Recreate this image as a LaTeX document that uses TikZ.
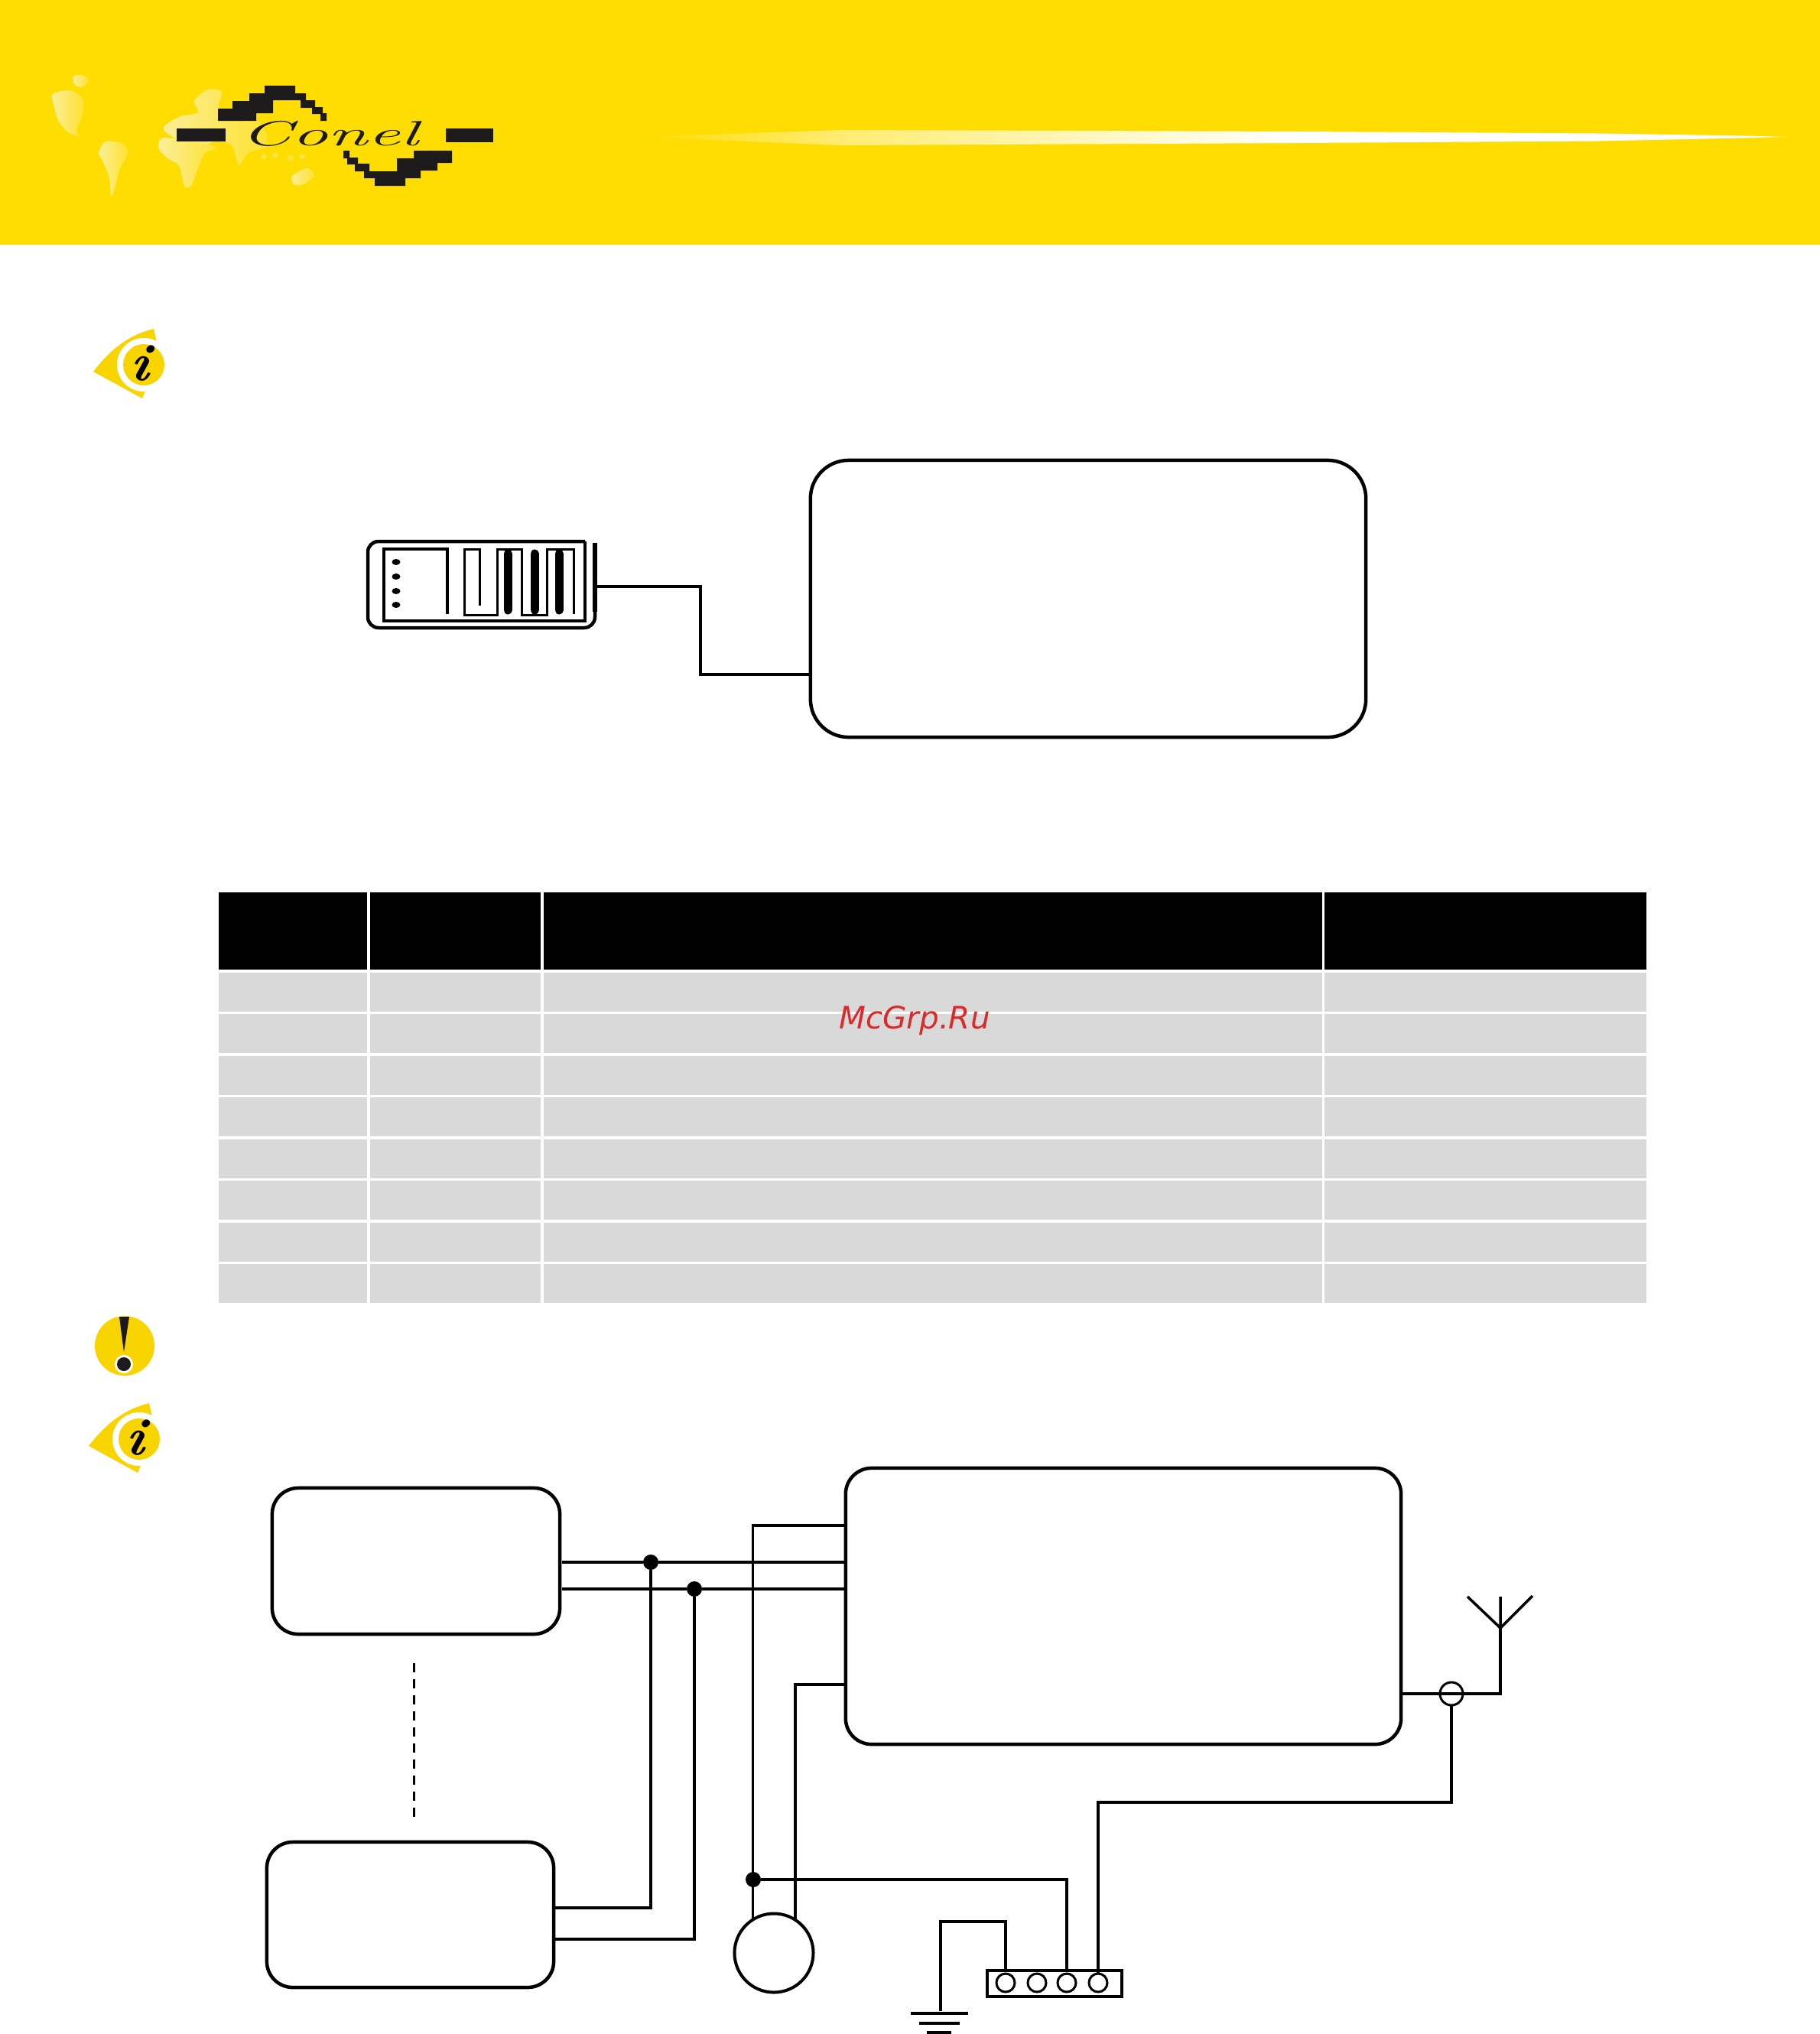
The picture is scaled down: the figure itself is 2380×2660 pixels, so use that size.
\documentclass[tikz,border=0pt]{standalone}
\usepackage{fontspec}
\newfontfamily\markfont{DejaVu Sans}
\definecolor{banneryellow}{HTML}{FFDD00}
\definecolor{iconyellow}{HTML}{F8D500}
\definecolor{landpale}{HTML}{FCEE9A}
\definecolor{tablegrey}{HTML}{D9D9D9}
\definecolor{logoblack}{HTML}{1C1A1A}
\definecolor{markred}{HTML}{D92B2B}
\tikzset{infoeye/.pic={
    \fill[iconyellow] (-66,9) .. controls (-40,-25) and (-15,-40) .. (13,-47)
    -- (17,-29) -- (5,27) -- (-2,44) -- cycle;
    \fill[white] (0,0) circle (0.35cm);
    \fill[iconyellow] (0,0) circle (0.27cm);
    \node[rotate=-8,text=black,font=\fontsize{20}{20}\rmfamily\bfseries\itshape] (-glyph) at (-4,-3) {i};
}}
\newcommand{\stairpath}{(285,158) -- (285,142) -- (304,142) -- (304,132) -- (326,132) -- (326,122) -- (346,122) -- (346,112) -- (386,112) -- (386,122) -- (400,122) -- (400,131) -- (412,131) -- (412,140) -- (422,140) -- (422,148) -- (427,148) -- (427,158) -- (419,158) -- (419,149) -- (408,149) -- (408,141) -- (393,141) -- (393,131) -- (357,131) -- (357,148) -- (335,148) -- (335,158) -- cycle}
\begin{document}
\begin{tikzpicture}[x=0.01cm,y=-0.01cm,>=latex]
    \tikzstyle{every node}=[inner sep=0pt,outer sep=0pt]
    \tikzstyle{land}=[left color=landpale,right color=banneryellow!70!landpale]
    \tikzstyle{wire}=[line width=0.035cm]
    \tikzstyle{outline}=[draw,line width=0.045cm,rounded corners=0.34cm]
    \tikzstyle{junction}=[circle,fill=black,minimum size=0.2cm]
    \tikzstyle{pin}=[circle,draw,line width=0.03cm,minimum size=0.24cm]

    \useasboundingbox (0,0) rectangle (2380,2660);

    % page head
    \fill[banneryellow] (0,0) rectangle (2380,320);
    \shade[land] plot[smooth cycle] coordinates {(69,123) (89,118) (107,127) (109,147) (100,170) (105,178) (89,173) (76,157) (69,133)};
    \shade[land] plot[smooth cycle] coordinates {(96,100) (108,98) (116,106) (106,114) (97,110)};
    \shade[land] plot[smooth cycle] coordinates {(129,200) (138,185) (161,188) (167,200) (156,223) (150,247) (145,257) (143,233) (134,210)};
    \shade[land] plot[smooth cycle] coordinates {(214,170) (234,153) (259,147) (254,132) (272,117) (290,120) (286,140) (300,150) (340,160) (350,190) (325,200) (312,215) (303,190) (280,185) (258,195)};
    \shade[land] plot[smooth cycle] coordinates {(207,193) (214,180) (254,186) (285,193) (268,200) (259,220) (250,243) (241,243) (234,217) (219,207)};
    \shade[land] plot[smooth cycle] coordinates {(382,230) (402,220) (411,230) (397,241) (384,241)};
    \foreach \ix/\iy in {345/205,360/203,380/207,395/205}
        \fill[banneryellow!60!landpale] (\ix,\iy) circle (0.04cm);
    \shade[left color=banneryellow,right color=banneryellow!55!white] (831,179) -- (1100,170) -- (1100,190) -- cycle;
    \shade[left color=banneryellow!55!white,right color=white] (1100,170) -- (1700,172) -- (1700,187) -- (1100,190) -- cycle;
    \fill[white] (1700,172) -- (2090,174.5) -- (2280,177.5) -- (2335,179) -- (2280,180.5) -- (2090,184.5) -- (1700,187) -- cycle;

    \fill[logoblack] (231,168) rectangle (295,185);
    \fill[logoblack] (583,168) rectangle (645,186);
    \fill[logoblack] \stairpath;
    \begin{scope}[rotate around={180:(438,177.5)}]
        \fill[logoblack] \stairpath;
    \end{scope}
    \node[xscale=2.08,text=logoblack,font=\fontsize{13}{13}\rmfamily\itshape] (conel) at (431,175) {Conel};

    % notes
    \pic (eyetop) at (188,477) {infoeye};
    \pic (eyelow) at (182,1882) {infoeye};
    \fill[iconyellow] (163,1760) circle (0.39cm);
    \fill[logoblack] (156,1722) -- (169,1722) -- (162,1768) -- cycle;
    \fill[white] (162,1784) circle (0.12cm);
    \fill[logoblack] (162,1784) circle (0.09cm);

    % first wiring
    \node[outline,rounded corners=0.5cm,minimum width=7.26cm,minimum height=3.62cm] (topbox) at (1423,783) {};
    \node[minimum width=3cm,minimum height=1.15cm] (router) at (630,767) {};
    \begin{scope}[line width=0.03cm]
        \draw[line width=0.045cm,rounded corners=0.14cm] (765,708) -- (481,708) -- (481,821) -- (778,821) -- (778,800);
        \draw[line width=0.055cm] (778,800) -- (778,710);
        \draw[line width=0.04cm] (765,708) -- (765,812) -- (502,812) -- (502,718) -- (585,718) -- (585,803);
        \draw (627,792) -- (627,718) -- (607,718) -- (607,804) -- (650,804) -- (650,718) -- (682,718)
        -- (682,804) -- (715,804) -- (715,718) -- (750,718) -- (750,803);
        \foreach \barx in {664,699,731}
            \draw[line width=0.11cm,line cap=round] (\barx,724) -- (\barx,798);
        \foreach \doty in {735,754,773,791}
            \fill (518,\doty) ellipse (0.055cm and 0.04cm);
    \end{scope}
    \coordinate (topbend) at (916,882);
    \draw[wire] (router.east) -| (topbend) -- (topbox.west |- topbend);

    % table
    \foreach \cola/\colb in {286/480,484/707,711/1729,1732/2153} {
        \fill[black] (\cola,1167) rectangle (\colb,1268);
        \foreach \row in {0,...,7}
            \fill[tablegrey] (\cola,{1272+54.45*\row}) rectangle (\colb,{1323+54.45*\row});
    }
    \node[text=markred,font=\fontsize{11.5}{12}\markfont\itshape] (mark) at (1196,1335) {McGrp.Ru};

    % second wiring
    \node[outline,minimum width=7.26cm,minimum height=3.61cm] (mainbox) at (1469,2100.5) {};
    \node[outline,minimum width=3.76cm,minimum height=1.91cm] (boxa) at (544,2041.5) {};
    \node[outline,minimum width=3.75cm,minimum height=1.90cm] (boxb) at (536.5,2504) {};
    \node[circle,draw,line width=0.04cm,minimum size=1.03cm] (power) at (1012,2554) {};
    \node[draw,line width=0.04cm,minimum width=1.76cm,minimum height=0.34cm] (terminal) at (1379,2594) {};
    \node[pin] (pin1) at (1315,2593) {};
    \node[pin] (pin2) at (1356,2593) {};
    \node[pin] (pin3) at (1395,2593) {};
    \node[pin] (pin4) at (1436,2593) {};
    \node[pin,minimum size=0.3cm] (coax) at (1898,2215) {};
    \node[junction] (tapa) at (851,2043) {};
    \node[junction] (tapb) at (908,2078) {};
    \node[junction] (tapc) at (985,2458) {};

    \coordinate (aouta) at (735,2043);
    \coordinate (aoutb) at (735,2078);
    \coordinate (bina) at (724,2495);
    \coordinate (binb) at (724,2536);
    \coordinate (mainina) at (984,1995);
    \coordinate (maininb) at (1040,2203);
    \coordinate (gndtop) at (1230,2513);
    \coordinate (gnd) at (1230,2630);
    \coordinate (coaxbend) at (1898,2357);
    \coordinate (antbase) at (1962,2215);
    \coordinate (antfeed) at (1962,2129);
    \coordinate (anttop) at (1962,2088);
    \coordinate (antleft) at (1919,2088);
    \coordinate (antright) at (2004,2087);
    \coordinate (gapa) at (541,2175);
    \coordinate (gapb) at (541,2376);

    \draw[wire] (aouta) -- (tapa) -- (mainbox.west |- tapa);
    \draw[wire] (aoutb) -- (tapb) -- (mainbox.west |- tapb);
    \draw[wire] (tapa) |- (bina);
    \draw[wire] (tapb) |- (binb);
    \draw[wire] (power.122) -- (power.122 |- mainina) -- (mainbox.west |- mainina);
    \draw[wire] (power.57) -- (power.57 |- maininb) -- (mainbox.west |- maininb);
    \draw[wire] (tapc) -| (pin3 |- terminal.north);
    \draw[wire] (pin1 |- terminal.north) |- (gndtop) -- (gnd);
    \draw[wire] (pin4.north) |- (coaxbend) -- (coax.south);
    \draw[wire] (mainbox.east |- coax) -- (antbase) -- (antfeed);
    \draw[wire] (anttop) -- (antfeed) -- (antleft);
    \draw[wire] (antfeed) -- (antright);
    \draw[line width=0.03cm,dash pattern=on 0.12cm off 0.09cm] (gapa) -- (gapb);
    \draw[line width=0.04cm] (1191,2633) -- (1266,2633);
    \draw[line width=0.04cm] (1202,2646) -- (1255,2646);
    \draw[line width=0.04cm] (1212,2658) -- (1244,2658);
\end{tikzpicture}
\end{document}
